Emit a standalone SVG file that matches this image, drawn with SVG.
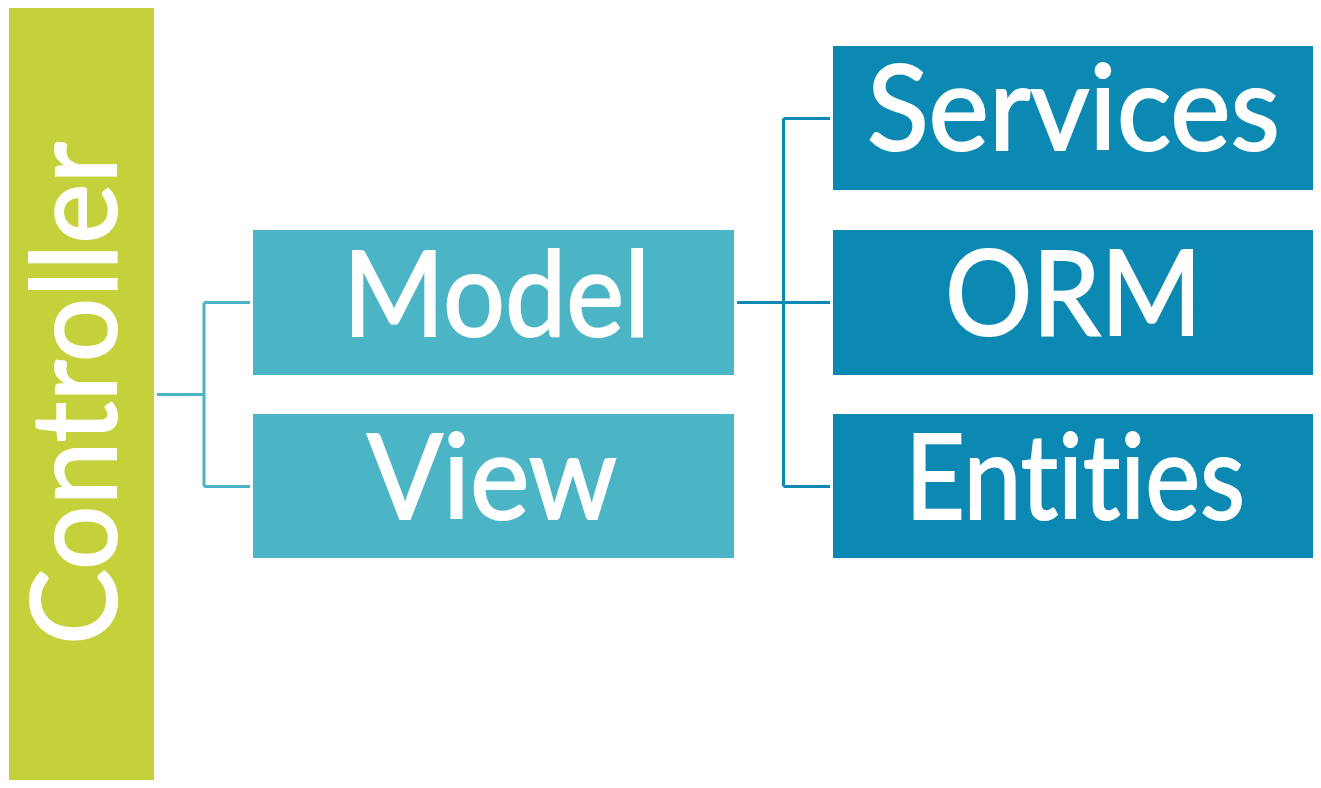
<svg xmlns="http://www.w3.org/2000/svg" width="1321" height="788" viewBox="0 0 1321 788">
<style>
.lbl{font-family:Lato,"Open Sans","Liberation Sans",sans-serif;font-size:118px;fill:#ffffff;stroke:#ffffff;stroke-width:2;font-variant-ligatures:none;font-feature-settings:"liga" 0}
.c1{fill:#4bb5c5}
.c2{fill:#0b89b2}
.l1{stroke:#4bb5c5;stroke-width:3;fill:none}
.l2{stroke:#0b89b2;stroke-width:3;fill:none}
</style>
<rect width="1321" height="788" fill="#ffffff"/>
<g id="connectors">
<path class="l1" d="M157 394.5H204M204 302.5V486.5M204 302.5H250M204 486.5H250"/>
<path class="l2" d="M737 302.5H830M783.5 118.5V486.5M783.5 118.5H830M783.5 486.5H830"/>
</g>
<g id="controller">
<rect x="9" y="8" width="145" height="772" fill="#c4d13b"/>
<text class="lbl" transform="translate(116,645) rotate(-90)" x="0" y="0" textLength="503" lengthAdjust="spacingAndGlyphs">Controller</text>
</g>
<g id="model">
<rect class="c1" x="253" y="230" width="481" height="145"/>
<text class="lbl" x="343" y="336" textLength="307" lengthAdjust="spacingAndGlyphs">Model</text>
</g>
<g id="view">
<rect class="c1" x="253" y="414" width="481" height="144"/>
<text class="lbl" x="367" y="519" textLength="250" lengthAdjust="spacingAndGlyphs">View</text>
</g>
<g id="services">
<rect class="c2" x="833" y="46" width="480" height="144"/>
<text class="lbl" x="867" y="150" textLength="413" lengthAdjust="spacingAndGlyphs">Services</text>
</g>
<g id="orm">
<rect class="c2" x="833" y="230" width="480" height="145"/>
<text class="lbl" x="945" y="335" textLength="257" lengthAdjust="spacingAndGlyphs">ORM</text>
</g>
<g id="entities">
<rect class="c2" x="833" y="414" width="480" height="144"/>
<text class="lbl" x="905" y="519" textLength="340" lengthAdjust="spacingAndGlyphs">Entities</text>
</g>
</svg>
